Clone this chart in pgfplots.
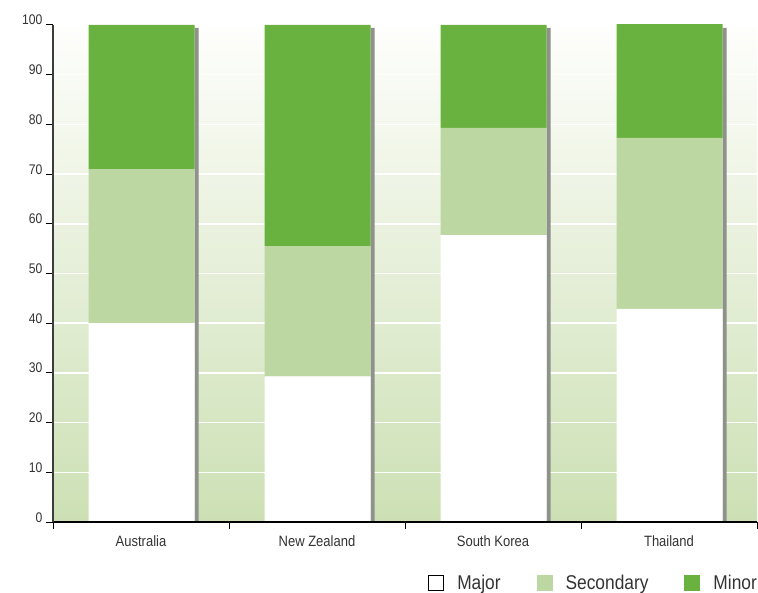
\documentclass[border=0pt]{standalone}
\usepackage{pgfplots}
\pgfplotsset{compat=1.18}
\usepackage{pgfplotstable}
\usepackage{fontspec}
\setmainfont[FakeStretch=0.87]{Liberation Sans}
\definecolor{minorc}{RGB}{106,178,64}
\definecolor{secc}{RGB}{189,215,162}
\definecolor{bgbot}{RGB}{204,224,180}
\definecolor{bgtop}{RGB}{254,254,252}
\definecolor{shadowc}{RGB}{143,145,140}
\definecolor{txt}{RGB}{51,51,51}
\definecolor{axisg}{RGB}{60,60,60}

\pgfplotstableread{
x major secondary minor shadow
0.5 40 31 29 99.4
1.5 29.3 26.2 44.5 99.4
2.5 57.7 21.6 20.7 99.4
3.5 42.9 34.4 22.9 99.4
}\data

\begin{document}
\begin{tikzpicture}
\path[use as bounding box] (0bp,0bp) rectangle (758bp,593bp);
\begin{axis}[
  at={(53bp,71bp)}, anchor=south west,
  width=704bp, height=497bp, scale only axis,
  xmin=0, xmax=4, ymin=0, ymax=100,
  axis background/.style={top color=bgtop, bottom color=bgbot},
  axis lines=left, axis line style={draw=none,-},
  ymajorgrids, grid style={white, line width=1.5bp},
  xtick={0,1,2,3,4},
  xticklabels={Australia,New Zealand,South Korea,Thailand},
  x tick label as interval,
  xticklabel style={font=\fontsize{15}{15}\selectfont, text=txt, yshift=-3bp},
  ytick={0,10,...,100},
  yticklabel style={font=\fontsize{14}{14}\selectfont, text=txt, anchor=base east},
  tick align=outside, major tick length=7bp,
  tick style={black, line width=1bp},
  /pgf/number format/assume math mode=true,
]
\addplot[ybar, bar width=4bp, bar shift=55.5bp, fill=shadowc, draw=none] table[x=x,y=shadow]{\data};
\end{axis}
\begin{axis}[
  at={(53bp,71bp)}, anchor=south west,
  width=704bp, height=497bp, scale only axis,
  xmin=0, xmax=4, ymin=0, ymax=100, clip=false,
  axis on top,
  ybar stacked, bar width=106bp, bar shift=0.5bp,
  axis x line=bottom, axis y line=left, axis line style={-},
  x axis line style={black, line width=1.2bp},
  y axis line style={draw=axisg, line width=2bp},
  xtick=\empty, ytick=\empty,
  legend style={at={(1,-0.123)}, anchor=east, xshift=5bp, draw=none, fill=none,
    legend columns=3, font=\fontsize{20}{20}\selectfont, text=txt,
    /tikz/every odd column/.append style={column sep=11bp},
    /tikz/every even column/.append style={column sep=34bp}},
]
\addplot[fill=white, draw=none,
  legend image code/.code={\draw[black, line width=0.8bp, fill=white] (0bp,-7.5bp) rectangle (15bp,7.5bp);}]
  table[x=x,y=major]{\data};
\addlegendentry{Major}
\addplot[fill=secc, draw=none,
  legend image code/.code={\fill[secc] (0bp,-8bp) rectangle (16bp,8bp);}]
  table[x=x,y=secondary]{\data};
\addlegendentry{Secondary}
\addplot[fill=minorc, draw=none,
  legend image code/.code={\fill[minorc] (0bp,-8bp) rectangle (16bp,8bp);}]
  table[x=x,y=minor]{\data};
\addlegendentry{Minor}
\end{axis}
\end{tikzpicture}
\end{document}
